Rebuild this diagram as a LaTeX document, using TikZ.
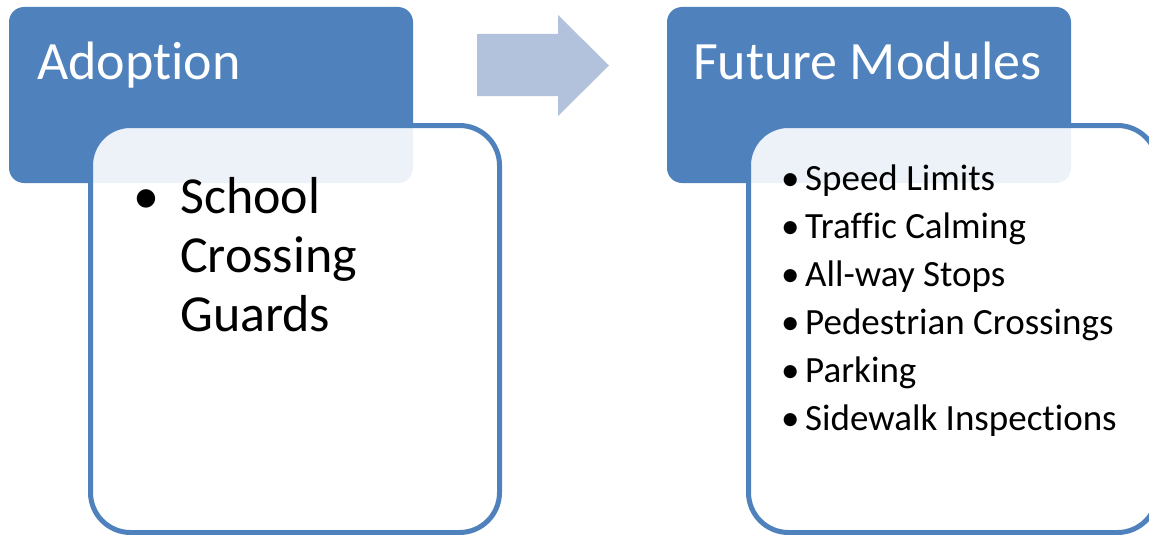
\documentclass[tikz,border=0pt]{standalone}
\usepackage{fontspec}
\setmainfont{Carlito}[Ligatures=NoCommon]
\definecolor{hdr}{HTML}{4F81BD}
\definecolor{arr}{HTML}{B3C2DC}
\begin{document}
\begin{tikzpicture}[x=1pt,y=-1pt,
  header/.style={fill=hdr, rounded corners=15pt, draw=none, inner sep=0, outer sep=0,
                 minimum width=404pt, minimum height=176pt, anchor=north west},
  body/.style={fill=white, fill opacity=0.9, draw=hdr, line width=5pt, rounded corners=40pt,
               inner sep=0, outer sep=0, minimum width=409pt, minimum height=407pt, anchor=north west},
  title/.style={text=white, inner sep=0, anchor=base west, font=\fontsize{54}{60}\selectfont},
  bigitem/.style={text=black, inner sep=0, anchor=base west, font=\fontsize{52}{59}\selectfont},
  item/.style={text=black, inner sep=0, anchor=base west, font=\fontsize{37}{48}\selectfont}
]
\useasboundingbox (0,0) rectangle (1149,535);
\clip (0,0) rectangle (1149,535);
% left group
\node[header] (h1) at (9,7) {};
\node[body] (b1) at (90.5,125.5) {};
\node[title] (t1) at (37,80) {Adoption};
\node[bigitem] (bl1) at (133,213) {•};
\node[bigitem] (l1) at (180,213) {School};
\node[bigitem] (l2) at (180,272) {Crossing};
\node[bigitem] (l3) at (180,331) {Guards};
% arrow
\fill[arr] (477,34) -- (558,34) -- (558,15) -- (609,65.5) -- (558,116) -- (558,96) -- (477,96) -- cycle;
% right group
\node[header] (h2) at (667,7) {};
\node[body] (b2) at (748.5,125.5) {};
\node[title] (t2) at (693,80) {Future Modules};
\foreach \txt [count=\i] in {Speed Limits, Traffic Calming, All-way Stops, Pedestrian Crossings, Parking, Sidewalk Inspections}{
  \node[item] (rb\i) at (781,{190+48*(\i-1)}) {•};
  \node[item] (r\i) at (805,{190+48*(\i-1)}) {\txt};
}
\end{tikzpicture}
\end{document}
